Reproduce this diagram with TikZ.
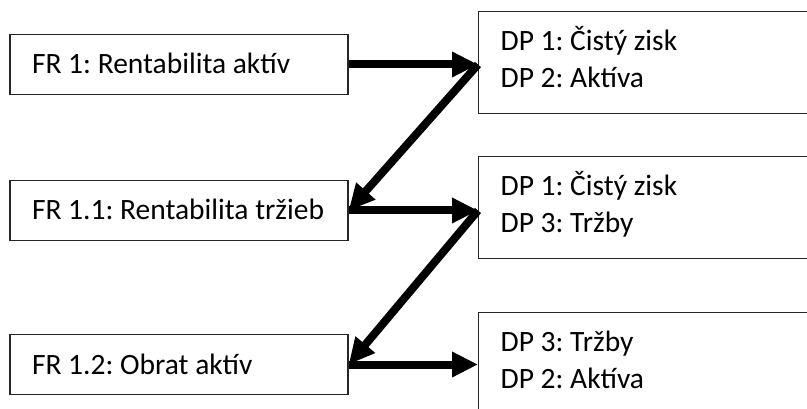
\documentclass[tikz,border=0pt]{standalone}
\usepackage{fontspec}
\setmainfont{Carlito}
\frenchspacing
\usetikzlibrary{arrows.meta}
\begin{document}
\begin{tikzpicture}[x=1pt,y=-1pt,
  every node/.style={font=\fontsize{29.5}{37}\selectfont},
  frbox/.style={draw=black!85, line width=1.3pt, rectangle,
    minimum width=338pt, minimum height=60pt, text width=294pt,
    inner xsep=22pt, inner ysep=0pt, align=flush left,
    text height=19pt, text depth=0pt},
  dpbox/.style={draw=black!85, line width=1.3pt, rectangle, anchor=north west,
    minimum width=352pt, minimum height=102pt, text width=308pt,
    inner xsep=22pt, inner ysep=0pt, align=flush left,
    text height=13pt, text depth=37pt},
  link/.style={line width=8pt, -{Triangle[length=26pt,width=24pt]}}
]
\useasboundingbox (0,0) rectangle (807,409);
\clip (0,0) rectangle (807,409);

% functional requirements
\node[frbox] (fr1)  at (179,64.5)  {FR 1: Rentabilita aktív};
\node[frbox] (fr11) at (179,210.5) {FR 1.1: Rentabilita tržieb};
\node[frbox] (fr12) at (179,364.5) {FR 1.2: Obrat aktív};

% design parameters
\node[dpbox] (dp1) at (478,11)  {DP 1: Čistý zisk\\DP 2: Aktíva};
\node[dpbox] (dp2) at (478,156) {DP 1: Čistý zisk\\DP 3: Tržby};
\node[dpbox] (dp3) at (478,312) {DP 3: Tržby\\DP 2: Aktíva};

% mapping connectors
\coordinate (t1) at (fr1.east -| dp1.west);
\coordinate (t2) at (fr11.east -| dp2.west);
\coordinate (t3) at (fr12.east -| dp3.west);
\draw[link] (fr1.east) -- (t1);
\draw[link] (t1) -- (fr11.east);
\draw[link] (fr11.east) -- (t2);
\draw[link] (t2) -- (fr12.east);
\draw[link] (fr12.east) -- (t3);
\end{tikzpicture}
\end{document}
